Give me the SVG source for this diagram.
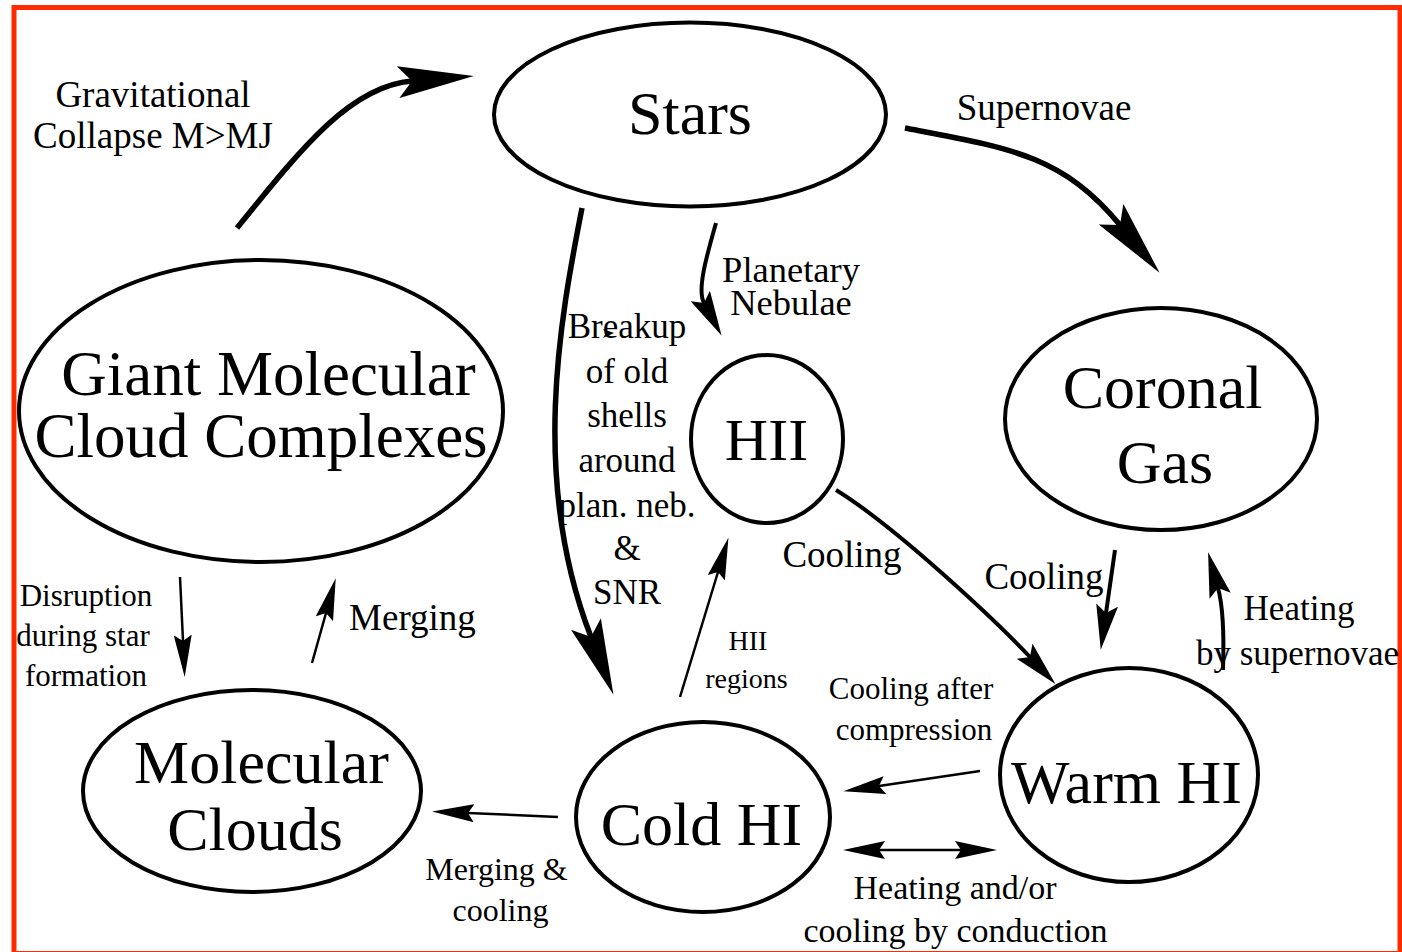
<svg xmlns="http://www.w3.org/2000/svg" width="1402" height="952" viewBox="0 0 1402 952">
<style>
.node{fill:none;stroke:#000;stroke-width:4}
.big{font-family:"Liberation Serif","Times New Roman",serif;fill:#000;text-anchor:middle}
.lbl{font-family:"Liberation Serif","Times New Roman",serif;fill:#000;text-anchor:middle}
.c{fill:none;stroke:#000;stroke-linecap:butt}
.thick{stroke-width:5.5;marker-end:url(#hb)}
.med{stroke-width:4;marker-end:url(#hm)}
.thin{stroke-width:2.5;marker-end:url(#ht)}
</style>
<defs>
<marker id="hb" markerUnits="userSpaceOnUse" orient="auto" refX="14" refY="16" markerWidth="76" markerHeight="32"><path d="M0,0 L76,16 L0,32 L14,16 Z" fill="#000"/></marker>
<marker id="hm" markerUnits="userSpaceOnUse" orient="auto" refX="8" refY="11" markerWidth="45" markerHeight="22"><path d="M0,0 L45,11 L0,22 L8,11 Z" fill="#000"/></marker>
<marker id="ht" markerUnits="userSpaceOnUse" orient="auto" refX="6" refY="9" markerWidth="42" markerHeight="18"><path d="M0,0 L42,9 L0,18 L6,9 Z" fill="#000"/></marker>
<marker id="hts" markerUnits="userSpaceOnUse" orient="auto-start-reverse" refX="6" refY="9" markerWidth="42" markerHeight="18"><path d="M0,0 L42,9 L0,18 L6,9 Z" fill="#000"/></marker>
</defs>
<rect x="0" y="0" width="1402" height="952" fill="#fff"/>
<rect x="14" y="7.5" width="1386" height="946" fill="none" stroke="#ff2a00" stroke-width="5"/>

<g id="stars"><ellipse class="node" cx="690" cy="114.5" rx="196" ry="92"/><text class="big" x="690" y="134" font-size="62">Stars</text></g>
<g id="gmc"><ellipse class="node" cx="261" cy="411" rx="242" ry="151"/><text class="big" font-size="63"><tspan x="268.5" y="395">Giant Molecular</tspan><tspan x="261" y="457">Cloud Complexes</tspan></text></g>
<g id="molecular-clouds"><ellipse class="node" cx="252" cy="791" rx="169" ry="101"/><text class="big" font-size="62"><tspan x="261.5" y="783">Molecular</tspan><tspan x="255" y="850">Clouds</tspan></text></g>
<g id="cold-hi"><ellipse class="node" cx="703" cy="817" rx="127" ry="95"/><text class="big" x="701.5" y="845" font-size="62">Cold HI</text></g>
<g id="hii"><ellipse class="node" cx="767" cy="439" rx="76" ry="84"/><text class="big" x="766.5" y="460" font-size="60">HII</text></g>
<g id="coronal-gas"><ellipse class="node" cx="1161" cy="419" rx="156" ry="111"/><text class="big" font-size="62"><tspan x="1162.5" y="408">Coronal</tspan><tspan x="1165" y="483">Gas</tspan></text></g>
<g id="warm-hi"><ellipse class="node" cx="1129" cy="775" rx="129" ry="107"/><text class="big" x="1126.5" y="803" font-size="62">Warm HI</text></g>

<g id="connectors">
<path class="c thick" d="M237,228 C300,150 350,86 412,81"/>
<path class="c thick" d="M905,128 C1010,148 1062,155 1120,225"/>
<path class="c thick" d="M582,208 C560,320 530,480 591,637"/>
<path class="c med" d="M716,223 C706,258 697,290 704,303"/>
<path class="c med" d="M836,490 C896,527 995,620 1030,657"/>
<path class="c med" d="M1115,550 L1106,613"/>
<path class="c med" d="M1223,670 C1224,640 1223,606 1218,588"/>
<path class="c thin" d="M180,577 L183,641"/>
<path class="c thin" d="M312,663 L326,613"/>
<path class="c thin" d="M680,697 L718,572"/>
<path class="c thin" d="M558,817 L468,813"/>
<path class="c thin" d="M980,771 L879,786"/>
<path class="c thin" d="M879,850 L961,850" marker-start="url(#hts)"/>
<path d="M603,329 L614,333 L603,338 L606,333 Z" fill="#000"/>
</g>

<g id="labels">
<text class="lbl" font-size="37"><tspan x="153" y="107">Gravitational</tspan><tspan x="153" y="148">Collapse M&gt;MJ</tspan></text>
<text class="lbl" font-size="37" x="1044" y="120">Supernovae</text>
<text class="lbl" font-size="36.5"><tspan x="791" y="282">Planetary</tspan><tspan x="791" y="315">Nebulae</tspan></text>
<text class="lbl" font-size="35"><tspan x="627" y="338">Breakup</tspan><tspan x="627" y="383">of old</tspan><tspan x="627" y="427">shells</tspan><tspan x="627" y="472">around</tspan><tspan x="627" y="517">plan. neb.</tspan><tspan x="627" y="560">&amp;</tspan><tspan x="627" y="604">SNR</tspan></text>
<text class="lbl" font-size="37" x="842" y="567">Cooling</text>
<text class="lbl" font-size="28"><tspan x="748" y="650">HII</tspan><tspan x="746.5" y="688">regions</tspan></text>
<text class="lbl" font-size="37" x="1044" y="589">Cooling</text>
<text class="lbl" font-size="35"><tspan x="1299" y="620">Heating</tspan><tspan x="1297.5" y="665">by supernovae</tspan></text>
<text class="lbl" font-size="31"><tspan x="911" y="699">Cooling after</tspan><tspan x="914" y="740">compression</tspan></text>
<text class="lbl" font-size="34"><tspan x="955" y="899">Heating and/or</tspan><tspan x="955.5" y="942">cooling by conduction</tspan></text>
<text class="lbl" font-size="32"><tspan x="496.5" y="880">Merging &amp;</tspan><tspan x="500.5" y="921">cooling</tspan></text>
<text class="lbl" font-size="37" x="412.5" y="630">Merging</text>
<text class="lbl" font-size="31"><tspan x="86" y="606">Disruption</tspan><tspan x="83" y="646">during star</tspan><tspan x="86" y="686">formation</tspan></text>
</g>
</svg>
